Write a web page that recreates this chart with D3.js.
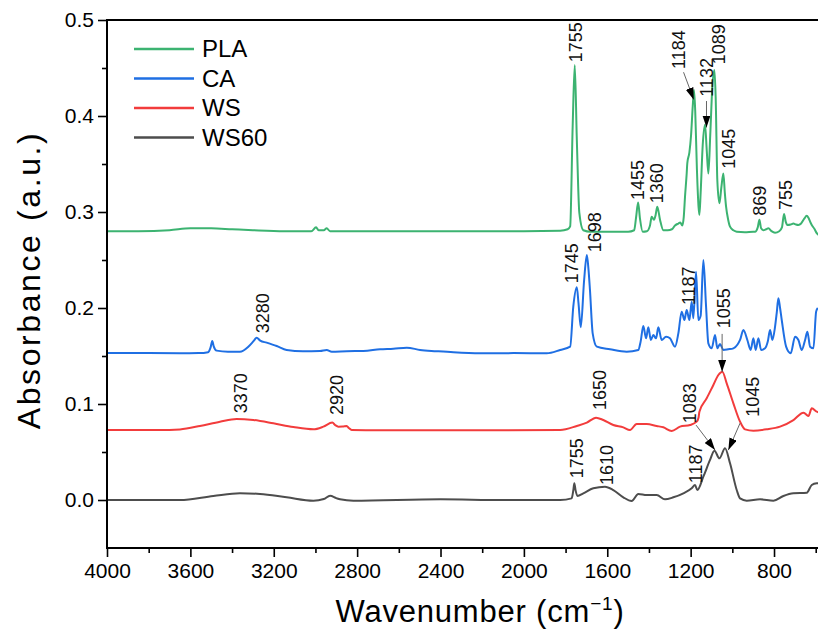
<!DOCTYPE html>
<html>
<head>
<meta charset="utf-8">
<script src="https://cdn.jsdelivr.net/npm/d3@7"></script>
<style>
  html, body { margin: 0; padding: 0; background: #fff; }
  svg { display: block; font-family: "Liberation Sans", Arial, sans-serif; }
</style>
</head>
<body>
<svg id="chart" width="818" height="640"></svg>
<script>
// FTIR spectra: [wavenumber (cm-1), absorbance (a.u.)]
const plaSpectrum = [
  [4000,0.280],[3850,0.280],[3700,0.281],[3600,0.283],[3500,0.283],[3400,0.282],[3300,0.281],
  [3150,0.280],[3020,0.280],[2997,0.284],[2985,0.281],[2960,0.281],[2946,0.283],[2930,0.280],
  [2880,0.280],[2600,0.280],[2300,0.280],[2000,0.280],[1826,0.2805],[1790,0.282],[1778,0.285],
  [1766,0.389],[1756,0.453],[1746,0.375],[1734,0.299],[1715,0.281],[1680,0.2795],[1600,0.2795],
  [1500,0.2795],[1471,0.281],[1462,0.294],[1452,0.310],[1443,0.293],[1430,0.2795],[1410,0.280],
  [1395,0.286],[1387,0.295],[1376,0.292],[1368,0.297],[1360,0.3055],[1347,0.292],[1331,0.281],
  [1310,0.281],[1290,0.282],[1275,0.286],[1259,0.288],[1250,0.289],[1240,0.286],[1233,0.295],
  [1227,0.316],[1219,0.340],[1216,0.351],[1206,0.362],[1198,0.380],[1190,0.410],[1184,0.427],
  [1178,0.405],[1170,0.345],[1162,0.305],[1158,0.297],[1152,0.320],[1142,0.370],[1131,0.391],
  [1123,0.365],[1115,0.340],[1106,0.380],[1096,0.430],[1086,0.448],[1080,0.420],[1072,0.333],
  [1062,0.309],[1053,0.325],[1043,0.340],[1036,0.320],[1030,0.3055],[1020,0.292],[1011,0.2847],
  [995,0.281],[979,0.2795],[940,0.279],[900,0.2795],[891,0.2795],[878,0.284],[870,0.292],
  [862,0.283],[851,0.281],[838,0.282],[827,0.283],[812,0.280],[795,0.2785],[775,0.280],
  [762,0.284],[752,0.298],[744,0.290],[736,0.2865],[720,0.287],[707,0.288],[695,0.287],
  [683,0.2865],[670,0.288],[655,0.293],[643,0.296],[635,0.294],[625,0.289],[619,0.2865],
  [605,0.282],[595,0.278],[585,0.276]
];

const caSpectrum = [
  [4000,0.153],[3800,0.153],[3650,0.1528],[3560,0.153],[3515,0.154],[3503,0.159],[3495,0.1656],
  [3488,0.160],[3474,0.1556],[3420,0.1545],[3362,0.1545],[3322,0.1597],[3295,0.166],[3282,0.1691],
  [3265,0.166],[3234,0.1639],[3186,0.1604],[3138,0.1563],[3060,0.155],[2978,0.1552],[2946,0.1563],
  [2922,0.1545],[2850,0.155],[2770,0.1552],[2690,0.157],[2626,0.1576],[2562,0.1587],[2498,0.1563],
  [2420,0.155],[2338,0.1538],[2210,0.1528],[2050,0.153],[1890,0.1528],[1826,0.1563],[1778,0.1597],
  [1763,0.2014],[1746,0.2215],[1738,0.205],[1727,0.1799],[1711,0.2292],[1698,0.2552],[1690,0.240],
  [1683,0.2188],[1670,0.1736],[1650,0.1597],[1587,0.157],[1507,0.1545],[1451,0.1563],[1440,0.165],
  [1427,0.1813],[1414,0.1684],[1403,0.1799],[1391,0.1667],[1379,0.1719],[1366,0.1684],[1355,0.1799],
  [1339,0.1667],[1318,0.1701],[1299,0.1684],[1275,0.1597],[1259,0.1736],[1243,0.1962],[1230,0.1875],
  [1219,0.1979],[1206,0.1875],[1195,0.2066],[1187,0.1892],[1174,0.2378],[1163,0.1875],[1152,0.192],
  [1139,0.250],[1126,0.2014],[1115,0.1632],[1099,0.158],[1083,0.1719],[1072,0.158],[1059,0.1625],
  [1043,0.1563],[1020,0.157],[995,0.158],[975,0.162],[963,0.1667],[947,0.1771],[928,0.1667],
  [912,0.1563],[899,0.1684],[888,0.1563],[875,0.1684],[862,0.1563],[843,0.158],[830,0.165],
  [819,0.1771],[808,0.1667],[795,0.1806],[787,0.195],[779,0.2101],[771,0.200],[763,0.1875],
  [742,0.1597],[720,0.1528],[699,0.1701],[683,0.1667],[667,0.1563],[651,0.1667],[640,0.1753],
  [627,0.1597],[611,0.158],[598,0.1962],[590,0.200]
];

const wsSpectrum = [
  [4000,0.073],[3850,0.073],[3700,0.073],[3650,0.0735],[3554,0.0771],[3458,0.0816],[3378,0.0844],
  [3298,0.0833],[3202,0.0799],[3106,0.076],[3010,0.0736],[2962,0.0764],[2919,0.0806],[2905,0.078],
  [2890,0.0764],[2870,0.0765],[2850,0.0771],[2840,0.075],[2826,0.0729],[2690,0.0726],[2400,0.0726],
  [2100,0.0727],[1826,0.0729],[1746,0.0771],[1698,0.0806],[1654,0.0858],[1619,0.0833],[1571,0.0781],
  [1523,0.0757],[1491,0.0729],[1459,0.0792],[1411,0.0792],[1363,0.0771],[1331,0.0757],[1291,0.0719],
  [1251,0.0764],[1203,0.0781],[1171,0.0816],[1162,0.086],[1158,0.092],[1123,0.1059],[1091,0.1198],
  [1067,0.1302],[1048,0.1337],[1027,0.1215],[995,0.1007],[963,0.0816],[939,0.0736],[899,0.0722],
  [835,0.0736],[771,0.0764],[707,0.0833],[659,0.0910],[645,0.089],[635,0.0875],[619,0.0955],
  [595,0.092],[585,0.091]
];

const ws60Spectrum = [
  [4000,0.0],[3800,0.0],[3650,0.0],[3490,0.0042],[3362,0.007],[3266,0.0063],[3138,0.0028],
  [3010,-0.0007],[2960,0.001],[2930,0.0045],[2900,0.002],[2882,0.0007],[2818,-0.0007],[2400,0.0007],
  [2100,0.0],[1890,0.0],[1826,0.0],[1771,0.0017],[1763,0.010],[1758,0.0174],[1752,0.010],
  [1743,0.0042],[1715,0.007],[1667,0.0122],[1611,0.0139],[1571,0.0104],[1523,0.0028],[1483,-0.001],
  [1451,0.0063],[1411,0.0052],[1363,0.0052],[1323,0.0007],[1283,0.0028],[1235,0.007],[1195,0.0122],
  [1179,0.0156],[1168,0.0104],[1139,0.0243],[1107,0.0417],[1086,0.0514],[1062,0.0434],[1035,0.054],
  [1011,0.0382],[979,0.0104],[963,0.0017],[931,-0.0007],[867,0.0007],[803,-0.0007],[755,0.0042],
  [707,0.007],[643,0.0076],[619,0.0156],[595,0.0174],[585,0.0175]
];

const seriesNames = ["PLA", "CA", "WS", "WS60"];
const seriesData = [plaSpectrum, caSpectrum, wsSpectrum, ws60Spectrum];

// Axis ticks
const xMajorTicks = [4000, 3600, 3200, 2800, 2400, 2000, 1600, 1200, 800];
const xMinorTicks = [3800, 3400, 3000, 2600, 2200, 1800, 1400, 1000, 600];
const yMajorTicks = [0.0, 0.1, 0.2, 0.3, 0.4, 0.5];
const yMinorTicks = [0.05, 0.15, 0.25, 0.35, 0.45];

// Peak assignments: label text, wavenumber of the label, absorbance at the label's foot
const peakLabels = [
  ["1755", 1750, 0.456], ["1455", 1454, 0.3125], ["1360", 1363, 0.309],
  ["1184", 1256, 0.449], ["1132", 1124, 0.420], ["1089", 1067, 0.454],
  ["1045", 1016, 0.345], ["869", 868, 0.296], ["755", 744, 0.302],
  ["3280", 3253, 0.1736], ["1745", 1770, 0.2257], ["1698", 1659, 0.258],
  ["1187", 1211, 0.203], ["1055", 1043, 0.179],
  ["3370", 3357, 0.0903], ["2920", 2898, 0.0885], ["1650", 1638, 0.0938],
  ["1083", 1206, 0.0799], ["1045", 902, 0.0868],
  ["1755", 1746, 0.0226], ["1610", 1602, 0.0156], ["1187", 1174, 0.0174]
];

// Pointer arrows: [from wavenumber, from absorbance, to wavenumber, to absorbance]
const peakArrows = [
  [1234, 0.4456, 1185, 0.417],
  [1124, 0.4156, 1124, 0.388],
  [1049, 0.173, 1049, 0.1335],
  [1174, 0.078, 1083, 0.052],
  [963, 0.080, 1019, 0.052]
];

const palette = ["#3cb371", "#1f6fe3", "#f23c3c", "#4d4d4d"];

const svg = d3.select("#chart");
const x = d3.scaleLinear().domain([4000, 400]).range([107, 857.4]);
const y = d3.scaleLinear().domain([-0.05, 0.5]).range([548, 20]);

// Arrowhead marker
svg.append("defs").append("marker")
  .attr("id", "arrowhead")
  .attr("viewBox", "0 0 12 8")
  .attr("refX", 12).attr("refY", 4)
  .attr("markerWidth", 12).attr("markerHeight", 8)
  .attr("markerUnits", "userSpaceOnUse")
  .attr("orient", "auto")
  .append("path").attr("d", "M0,0L12,4L0,8Z").attr("fill", "#000");

// Spectra
const line = d3.line().x(d => x(d[0])).y(d => y(d[1])).curve(d3.curveMonotoneX);
svg.append("g").selectAll("path").data(seriesData).join("path")
  .attr("d", d => line(d))
  .attr("fill", "none")
  .attr("stroke", (d, i) => palette[i])
  .attr("stroke-width", 2)
  .attr("stroke-linejoin", "round");

// Axes
const fontFamily = "'Liberation Sans', Arial, sans-serif";
svg.append("g").attr("transform", `translate(0,${y(-0.05)})`)
  .call(d3.axisBottom(x).tickValues(xMajorTicks).tickSize(9).tickPadding(6).tickFormat(d3.format("d")));
svg.append("g").attr("transform", `translate(0,${y(-0.05)})`)
  .call(d3.axisBottom(x).tickValues(xMinorTicks).tickSize(5).tickFormat(""));
svg.append("g").attr("transform", `translate(${x(4000)},0)`)
  .call(d3.axisLeft(y).tickValues(yMajorTicks).tickSize(9).tickPadding(4).tickFormat(d3.format(".1f")));
svg.append("g").attr("transform", `translate(${x(4000)},0)`)
  .call(d3.axisLeft(y).tickValues(yMinorTicks).tickSize(5).tickFormat(""));

svg.selectAll(".domain").remove();
svg.selectAll(".tick line").attr("stroke", "#000").attr("stroke-width", 1.6);
svg.selectAll(".tick text").attr("font-family", fontFamily).attr("font-size", 21).attr("fill", "#000");

// Frame: left, bottom, top
const frame = svg.append("g").attr("stroke", "#000").attr("stroke-width", 2).attr("fill", "none");
frame.append("line").attr("x1", x(4000)).attr("x2", x(4000)).attr("y1", y(0.5)).attr("y2", y(-0.05));
frame.append("line").attr("x1", x(4000) - 1).attr("x2", x(400)).attr("y1", y(-0.05)).attr("y2", y(-0.05));
frame.append("line").attr("x1", x(4000) - 1).attr("x2", x(400)).attr("y1", y(0.5)).attr("y2", y(0.5));

// Peak labels
svg.append("g").selectAll("text").data(peakLabels).join("text")
  .attr("transform", d => `translate(${x(d[1])},${y(d[2])}) rotate(-90)`)
  .attr("dy", "0.35em")
  .attr("font-family", fontFamily)
  .attr("font-size", 18)
  .attr("fill", "#111")
  .text(d => d[0]);

// Peak arrows
svg.append("g").selectAll("line").data(peakArrows).join("line")
  .attr("x1", d => x(d[0])).attr("y1", d => y(d[1]))
  .attr("x2", d => x(d[2])).attr("y2", d => y(d[3]))
  .attr("stroke", "#666").attr("stroke-width", 1)
  .attr("marker-end", "url(#arrowhead)");

// Legend
const legend = svg.append("g").attr("transform", "translate(134,49)");
const rows = legend.selectAll("g").data(seriesNames).join("g")
  .attr("transform", (d, i) => `translate(0,${i * 29.5})`);
rows.append("line").attr("x1", 0).attr("x2", 60).attr("y1", 0).attr("y2", 0)
  .attr("stroke", (d, i) => palette[i]).attr("stroke-width", 2.5);
rows.append("text").attr("x", 68).attr("dy", "0.35em")
  .attr("font-family", fontFamily).attr("font-size", 24).attr("fill", "#000")
  .text(d => d);

// Axis titles
svg.append("text")
  .attr("transform", "translate(480,622)")
  .attr("text-anchor", "middle")
  .attr("font-family", fontFamily).attr("font-size", 31).attr("letter-spacing", 0.8).attr("fill", "#000")
  .call(t => {
    t.append("tspan").text("Wavenumber (cm");
    t.append("tspan").attr("font-size", 19).attr("dy", -12).text("\u22121");
    t.append("tspan").attr("dy", 12).text(")");
  });

svg.append("text")
  .attr("transform", "translate(40,280) rotate(-90)")
  .attr("text-anchor", "middle")
  .attr("font-family", fontFamily).attr("font-size", 32).attr("letter-spacing", 2.6).attr("fill", "#000")
  .text("Absorbance (a.u.)");
</script>
</body>
</html>
